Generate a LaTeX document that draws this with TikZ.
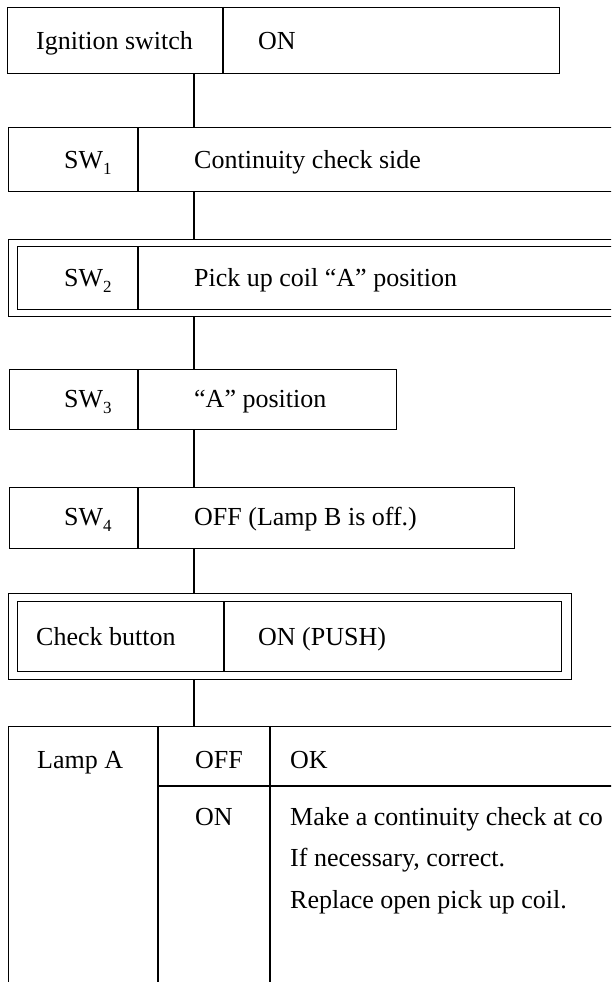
\documentclass[tikz,border=0pt]{standalone}
\usepackage{fontspec}
\setmainfont{Liberation Serif}
\newcommand{\swsub}[1]{\raisebox{-6pt}{\fontsize{17}{17}\selectfont #1}}
\begin{document}
\begin{tikzpicture}[x=1pt,y=-1pt,
  frame/.style={draw, line width=1.3pt, inner sep=0pt, anchor=north west},
  conn/.style={line width=1.3pt},
  lbl/.style={font=\fontsize{26}{31}\selectfont, inner sep=0pt, anchor=base west},
]
\useasboundingbox (0,0) rectangle (611,982);
\fill[white] (0,0) rectangle (611,982);
\clip (0,0) rectangle (611,982);
\coordinate (axis) at (194,0);
\coordinate (dA) at (138,0);

% Ignition switch
\node[frame, minimum width=552pt, minimum height=66pt] (b1) at (7,7) {};
\coordinate (d1) at (223,0);
\draw[conn] (d1 |- b1.north) -- (d1 |- b1.south);
\node[lbl] (t1a) at (36,49) {Ignition switch};
\node[lbl] (t1b) at (258,49) {ON};

% SW1
\node[frame, minimum width=640pt, minimum height=64pt] (b2) at (8,127) {};
\draw[conn] (dA |- b2.north) -- (dA |- b2.south);
\node[lbl] (t2a) at (64,168) {SW\swsub{1}};
\node[lbl] (t2b) at (194,168) {Continuity check side};

% SW2 (double frame)
\node[frame, minimum width=640pt, minimum height=77pt] (b3o) at (8,239) {};
\node[frame, minimum width=640pt, minimum height=63pt] (b3) at (17,246) {};
\draw[conn] (dA |- b3.north) -- (dA |- b3.south);
\node[lbl] (t3a) at (64,286) {SW\swsub{2}};
\node[lbl] (t3b) at (194,286) {Pick up coil ``A'' position};

% SW3
\node[frame, minimum width=387pt, minimum height=60pt] (b4) at (9,369) {};
\draw[conn] (dA |- b4.north) -- (dA |- b4.south);
\node[lbl] (t4a) at (64,407) {SW\swsub{3}};
\node[lbl] (t4b) at (194,407) {``A'' position};

% SW4
\node[frame, minimum width=505pt, minimum height=61pt] (b5) at (9,487) {};
\draw[conn] (dA |- b5.north) -- (dA |- b5.south);
\node[lbl] (t5a) at (64,525) {SW\swsub{4}};
\node[lbl] (t5b) at (194,525) {OFF (Lamp B is off.)};

% Check button (double frame)
\node[frame, minimum width=563pt, minimum height=86pt] (b6o) at (8,593) {};
\node[frame, minimum width=544pt, minimum height=70pt] (b6) at (17,601) {};
\coordinate (d6) at (224,0);
\draw[conn] (d6 |- b6.north) -- (d6 |- b6.south);
\node[lbl] (t6a) at (36,645) {Check button};
\node[lbl] (t6b) at (258,645) {ON (PUSH)};

% Lamp A table
\node[frame, minimum width=700pt, minimum height=400pt] (tab) at (8,726) {};
\coordinate (c1) at (158,0);
\coordinate (c2) at (270,0);
\coordinate (r1) at (0,786);
\draw[conn] (c1 |- tab.north) -- (c1 |- tab.south);
\draw[conn] (c2 |- tab.north) -- (c2 |- tab.south);
\draw[conn] (c1 |- r1) -- (r1 -| tab.east);
\node[lbl] (l1) at (37,768) {Lamp A};
\node[lbl] (l2) at (195,768) {OFF};
\node[lbl] (l3) at (290,768) {OK};
\node[lbl] (l4) at (195,825) {ON};
\node[lbl] (l5) at (290,825) {Make a continuity check at co};
\node[lbl] (l6) at (290,866) {If necessary, correct.};
\node[lbl] (l7) at (290,908) {Replace open pick up coil.};

% connectors
\draw[conn] (b1.south -| axis) -- (b2.north -| axis);
\draw[conn] (b2.south -| axis) -- (b3o.north -| axis);
\draw[conn] (b3o.south -| axis) -- (b4.north -| axis);
\draw[conn] (b4.south -| axis) -- (b5.north -| axis);
\draw[conn] (b5.south -| axis) -- (b6o.north -| axis);
\draw[conn] (b6o.south -| axis) -- (tab.north -| axis);
\end{tikzpicture}
\end{document}
